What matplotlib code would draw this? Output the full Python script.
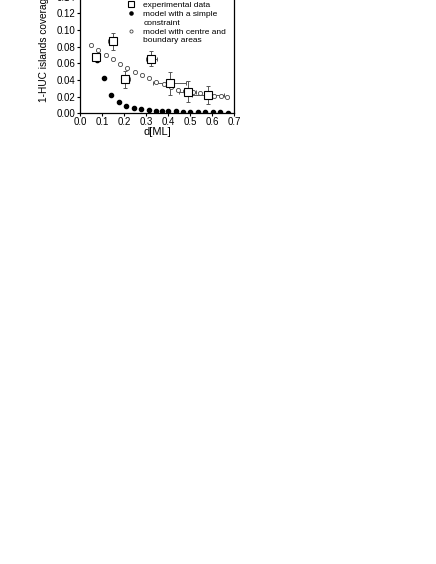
import matplotlib
matplotlib.use('Agg')
import matplotlib.pyplot as plt
from matplotlib.lines import Line2D
from matplotlib.ticker import MultipleLocator

plt.rcParams['font.family'] = ['Liberation Sans', 'DejaVu Sans']

# experimental data (squares with x and y error bars)
exp_x = [0.073, 0.148, 0.205, 0.323, 0.409, 0.489, 0.583]
exp_y = [0.067, 0.0865, 0.0406, 0.0655, 0.036, 0.0258, 0.0222]
exp_xerr = [0.010, 0.020, 0.020, 0.025, 0.075, 0.038, 0.072]
exp_yerr = [0.004, 0.010, 0.010, 0.009, 0.014, 0.0125, 0.011]

# model with a simple constraint
simple_x = [0.076, 0.108, 0.141, 0.176, 0.209, 0.244, 0.277, 0.312, 0.345, 0.372,
            0.402, 0.435, 0.467, 0.501, 0.535, 0.569, 0.603, 0.636, 0.671]
simple_y = [0.064, 0.0427, 0.0225, 0.0135, 0.009, 0.0065, 0.0055, 0.0035, 0.003, 0.003,
            0.003, 0.0028, 0.002, 0.0015, 0.0012, 0.001, 0.001, 0.0012, 0.0008]

# model with centre and boundary areas
cb_x = [0.050, 0.083, 0.116, 0.149, 0.182, 0.215, 0.248, 0.281, 0.314, 0.347,
        0.380, 0.413, 0.446, 0.479, 0.512, 0.545, 0.578, 0.611, 0.640, 0.668]
cb_y = [0.0825, 0.076, 0.0705, 0.065, 0.0595, 0.0545, 0.049, 0.0455, 0.042, 0.038,
        0.035, 0.032, 0.028, 0.027, 0.025, 0.024, 0.023, 0.021, 0.0205, 0.020]

fig = plt.figure(figsize=(4.36, 5.64), dpi=100)
ax = fig.add_axes([80 / 436, 450.7 / 564, 154 / 436, 133.3 / 564])

ax.errorbar(exp_x, exp_y, xerr=exp_xerr, yerr=exp_yerr, fmt='none',
            ecolor='#555555', elinewidth=0.7, capsize=1.5, capthick=0.7, zorder=2)
h_exp, = ax.plot(exp_x, exp_y, 's', ms=6, mfc='white', mec='black', mew=0.8, zorder=4)
h_simple, = ax.plot(simple_x, simple_y, 'o', ms=3, color='black', zorder=3)
h_cb, = ax.plot(cb_x, cb_y, 'o', ms=3, mfc='white', mec='#444444', mew=0.6, zorder=3)

ax.set_xlim(0, 0.7)
ax.set_ylim(0, 0.16)
ax.xaxis.set_major_locator(MultipleLocator(0.1))
ax.yaxis.set_major_locator(MultipleLocator(0.02))
ax.xaxis.set_major_formatter(plt.FormatStrFormatter('%.1f'))
ax.yaxis.set_major_formatter(plt.FormatStrFormatter('%.2f'))
ax.tick_params(direction='out', length=2.5, width=0.8, labelsize=7, pad=0.5)
for s in ax.spines.values():
    s.set_linewidth(0.9)

ax.set_xlabel('d[ML]', fontsize=8, labelpad=0)
ax.set_ylabel('1-HUC islands coverage', fontsize=7.3, labelpad=6)

# legend: marker on the first line of each two-line label
blank = Line2D([], [], linestyle='none', marker='none')
handles = [h_exp, h_simple, blank, h_cb, blank]
labels = ['experimental data', 'model with a simple', 'constraint',
          'model with centre and', 'boundary areas']
leg = ax.legend(handles, labels, loc='upper left',
                bbox_to_anchor=((127 - 80) / 154, 0.843), fontsize=6,
                frameon=False, handlelength=1.0, handletextpad=0.95,
                labelspacing=0.13, borderaxespad=0.0, borderpad=0.0,
                markerscale=0.75)

fig.savefig('out.png', dpi=100)
